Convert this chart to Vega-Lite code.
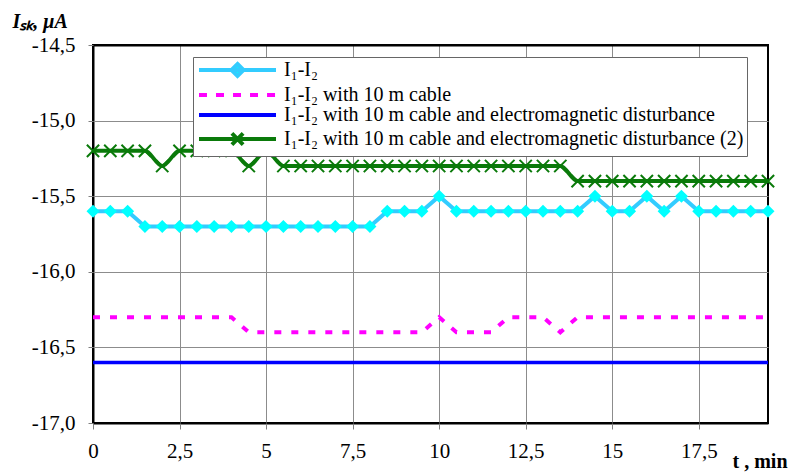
{
  "$schema": "https://vega.github.io/schema/vega-lite/v6.json",
  "width": 675,
  "height": 378,
  "autosize": {"type": "none"},
  "padding": {"left": 93, "top": 45, "right": 24, "bottom": 50},
  "background": "white",
  "data": {
    "values": [
      {"t": 0, "A": -15.6, "B": -16.3, "C": -16.6, "D": -15.2},
      {"t": 0.5, "A": -15.6, "B": -16.3, "C": -16.6, "D": -15.2},
      {"t": 1, "A": -15.6, "B": -16.3, "C": -16.6, "D": -15.2},
      {"t": 1.5, "A": -15.7, "B": -16.3, "C": -16.6, "D": -15.2},
      {"t": 2, "A": -15.7, "B": -16.3, "C": -16.6, "D": -15.3},
      {"t": 2.5, "A": -15.7, "B": -16.3, "C": -16.6, "D": -15.2},
      {"t": 3, "A": -15.7, "B": -16.3, "C": -16.6, "D": -15.2},
      {"t": 3.5, "A": -15.7, "B": -16.3, "C": -16.6, "D": -15.2},
      {"t": 4, "A": -15.7, "B": -16.3, "C": -16.6, "D": -15.2},
      {"t": 4.5, "A": -15.7, "B": -16.4, "C": -16.6, "D": -15.3},
      {"t": 5, "A": -15.7, "B": -16.4, "C": -16.6, "D": -15.2},
      {"t": 5.5, "A": -15.7, "B": -16.4, "C": -16.6, "D": -15.3},
      {"t": 6, "A": -15.7, "B": -16.4, "C": -16.6, "D": -15.3},
      {"t": 6.5, "A": -15.7, "B": -16.4, "C": -16.6, "D": -15.3},
      {"t": 7, "A": -15.7, "B": -16.4, "C": -16.6, "D": -15.3},
      {"t": 7.5, "A": -15.7, "B": -16.4, "C": -16.6, "D": -15.3},
      {"t": 8, "A": -15.7, "B": -16.4, "C": -16.6, "D": -15.3},
      {"t": 8.5, "A": -15.6, "B": -16.4, "C": -16.6, "D": -15.3},
      {"t": 9, "A": -15.6, "B": -16.4, "C": -16.6, "D": -15.3},
      {"t": 9.5, "A": -15.6, "B": -16.4, "C": -16.6, "D": -15.3},
      {"t": 10, "A": -15.5, "B": -16.3, "C": -16.6, "D": -15.3},
      {"t": 10.5, "A": -15.6, "B": -16.4, "C": -16.6, "D": -15.3},
      {"t": 11, "A": -15.6, "B": -16.4, "C": -16.6, "D": -15.3},
      {"t": 11.5, "A": -15.6, "B": -16.4, "C": -16.6, "D": -15.3},
      {"t": 12, "A": -15.6, "B": -16.3, "C": -16.6, "D": -15.3},
      {"t": 12.5, "A": -15.6, "B": -16.3, "C": -16.6, "D": -15.3},
      {"t": 13, "A": -15.6, "B": -16.3, "C": -16.6, "D": -15.3},
      {"t": 13.5, "A": -15.6, "B": -16.4, "C": -16.6, "D": -15.3},
      {"t": 14, "A": -15.6, "B": -16.3, "C": -16.6, "D": -15.4},
      {"t": 14.5, "A": -15.5, "B": -16.3, "C": -16.6, "D": -15.4},
      {"t": 15, "A": -15.6, "B": -16.3, "C": -16.6, "D": -15.4},
      {"t": 15.5, "A": -15.6, "B": -16.3, "C": -16.6, "D": -15.4},
      {"t": 16, "A": -15.5, "B": -16.3, "C": -16.6, "D": -15.4},
      {"t": 16.5, "A": -15.6, "B": -16.3, "C": -16.6, "D": -15.4},
      {"t": 17, "A": -15.5, "B": -16.3, "C": -16.6, "D": -15.4},
      {"t": 17.5, "A": -15.6, "B": -16.3, "C": -16.6, "D": -15.4},
      {"t": 18, "A": -15.6, "B": -16.3, "C": -16.6, "D": -15.4},
      {"t": 18.5, "A": -15.6, "B": -16.3, "C": -16.6, "D": -15.4},
      {"t": 19, "A": -15.6, "B": -16.3, "C": -16.6, "D": -15.4},
      {"t": 19.5, "A": -15.6, "B": -16.3, "C": -16.6, "D": -15.4}
    ]
  },
  "transform": [{"fold": ["A", "B", "C", "D"], "as": ["s", "I"]}],
  "encoding": {
    "x": {
      "field": "t",
      "type": "quantitative",
      "scale": {"domain": [0, 19.5], "nice": false, "zero": false},
      "axis": {
        "values": [0, 2.5, 5, 7.5, 10, 12.5, 15, 17.5],
        "format": ".1~f",
        "labelExpr": "replace(datum.label, '.', ',')",
        "title": "t , min",
        "titleX": 639,
        "titleY": 44,
        "titleAlign": "left",
        "titleBaseline": "alphabetic",
        "titleFont": "Liberation Serif",
        "titleFontSize": 20,
        "titleFontWeight": "bold",
        "labelFont": "Liberation Serif",
        "labelFontSize": 21,
        "labelPadding": 11,
        "labelFlush": false,
        "tickSize": 6,
        "tickColor": "#808080",
        "grid": true,
        "gridColor": {"condition": {"test": "datum.value == 0", "value": "black"}, "value": "#8c8c8c"},
        "gridWidth": {"condition": {"test": "datum.value == 0", "value": 2}, "value": 1},
        "domain": false
      }
    },
    "y": {
      "field": "I",
      "type": "quantitative",
      "scale": {"domain": [-17, -14.5], "nice": false, "zero": false},
      "axis": {
        "values": [-17, -16.5, -16, -15.5, -15, -14.5],
        "format": ".1f",
        "labelExpr": "replace(replace(datum.label, '−', '-'), '.', ',')",
        "title": "Iₛₖ, μA",
        "titleAngle": 0,
        "titleX": -81,
        "titleY": -18,
        "titleAlign": "left",
        "titleBaseline": "alphabetic",
        "titleFont": "Liberation Serif",
        "titleFontSize": 20,
        "titleFontWeight": "bold",
        "titleFontStyle": "italic",
        "labelFont": "Liberation Serif",
        "labelFontSize": 21,
        "labelPadding": 13,
        "labelFlush": false,
        "tickSize": 5,
        "tickColor": "#808080",
        "grid": true,
        "gridColor": {"condition": {"test": "datum.value == -17 || datum.value == -14.5", "value": "black"}, "value": "#8c8c8c"},
        "gridWidth": {"condition": {"test": "datum.value == -17 || datum.value == -14.5", "value": 2}, "value": 1},
        "domain": false
      }
    }
  },
  "layer": [
    {
      "transform": [{"filter": "datum.s == 'C'"}],
      "mark": {"type": "line", "stroke": "#0000FF", "strokeWidth": 3.5}
    },
    {
      "transform": [{"filter": "datum.s == 'B'"}],
      "mark": {"type": "line", "stroke": "#FF00FF", "strokeWidth": 4, "strokeDash": [7, 10]}
    },
    {
      "transform": [{"filter": "datum.s == 'A'"}],
      "mark": {"type": "line", "stroke": "#33CCFF", "strokeWidth": 4}
    },
    {
      "transform": [{"filter": "datum.s == 'A'"}],
      "mark": {"type": "point", "shape": "diamond", "filled": true, "fill": "#00FFFF", "size": 170, "opacity": 1}
    },
    {
      "transform": [{"filter": "datum.s == 'D'"}],
      "mark": {"type": "line", "stroke": "#0A7A0A", "strokeWidth": 4, "interpolate": "monotone"}
    },
    {
      "transform": [{"filter": "datum.s == 'D'"}],
      "mark": {"type": "point", "shape": "M-1,-1L1,1M-1,1L1,-1", "filled": false, "stroke": "#0A7A0A", "strokeWidth": 2, "size": 150, "opacity": 1}
    },
    {
      "mark": {"type": "point", "filled": true, "opacity": 0},
      "encoding": {
        "fill": {
          "field": "s",
          "type": "nominal",
          "scale": {"domain": ["A", "B", "C", "D"], "range": ["#00FFFF", "#FF00FF", "#0000FF", "#0A7A0A"]},
          "legend": {
            "title": null,
            "labelExpr": "datum.label == 'A' ? 'I₁-I₂' : datum.label == 'B' ? 'I₁-I₂ with 10 m cable' : datum.label == 'C' ? 'I₁-I₂ with 10 m cable and electromagnetic disturbance' : 'I₁-I₂ with 10 m cable and electromagnetic disturbance (2)'"
          }
        },
        "stroke": {
          "field": "s",
          "type": "nominal",
          "scale": {"domain": ["A", "B", "C", "D"], "range": ["#33CCFF", "#FF00FF", "#0000FF", "#0A7A0A"]},
          "legend": {
            "title": null,
            "labelExpr": "datum.label == 'A' ? 'I₁-I₂' : datum.label == 'B' ? 'I₁-I₂ with 10 m cable' : datum.label == 'C' ? 'I₁-I₂ with 10 m cable and electromagnetic disturbance' : 'I₁-I₂ with 10 m cable and electromagnetic disturbance (2)'"
          }
        },
        "shape": {
          "field": "s",
          "type": "nominal",
          "scale": {
            "domain": ["A", "B", "C", "D"],
            "range": [
              "M-1,0L10,0M4.5,-0.86L5.36,0L4.5,0.86L3.64,0Z",
              "M-1,0L0.14,0M1.43,0L2.57,0M3.86,0L5,0M6.29,0L7.43,0M8.72,0L9.86,0",
              "M-1,0L10,0",
              "M-1,0L10,0M3.7,-0.8L5.3,0.8M3.7,0.8L5.3,-0.8"
            ]
          },
          "legend": {
            "title": null,
            "labelExpr": "datum.label == 'A' ? 'I₁-I₂' : datum.label == 'B' ? 'I₁-I₂ with 10 m cable' : datum.label == 'C' ? 'I₁-I₂ with 10 m cable and electromagnetic disturbance' : 'I₁-I₂ with 10 m cable and electromagnetic disturbance (2)'"
          }
        }
      }
    }
  ],
  "config": {
    "font": "Liberation Serif",
    "view": {"stroke": "black", "strokeWidth": 2},
    "axis": {"labelColor": "black", "titleColor": "black", "labelFont": "Liberation Serif", "titleFont": "Liberation Serif"},
    "legend": {
      "orient": "none",
      "legendX": 100,
      "legendY": 12,
      "fillColor": "white",
      "strokeColor": "#666666",
      "padding": 3,
      "labelFont": "Liberation Serif",
      "labelFontSize": 20,
      "labelColor": "black",
      "labelLimit": 0,
      "labelOffset": 68,
      "symbolSize": 196,
      "symbolStrokeWidth": 4,
      "symbolOpacity": 1,
      "rowPadding": 0
    }
  }
}
